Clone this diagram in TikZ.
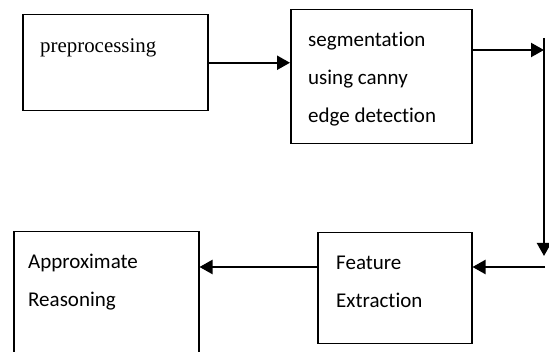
\documentclass[tikz,border=0pt]{standalone}
\usepackage{fontspec}
\setmainfont{Carlito}[Ligatures=NoCommon]
\newfontfamily\serifface{Liberation Serif}
\usetikzlibrary{arrows.meta}
\begin{document}
\begin{tikzpicture}[x=1pt,y=-1pt,
  box/.style={draw=black, line width=1.5pt, inner sep=0pt, anchor=north west},
  boxtext/.style={anchor=base west, inner sep=0pt, align=left,
    font=\fontsize{21}{38}\selectfont},
  flow/.style={line width=2.2pt, -{Triangle[length=13pt,width=14pt]}}]
\useasboundingbox (0,0) rectangle (549,352);
\clip (0,0) rectangle (549,352);

% process boxes
\node[box, minimum width=185pt, minimum height=96pt]  (b1) at (22,14)  {};
\node[box, minimum width=181pt, minimum height=134pt] (b2) at (290,9)  {};
\node[box, minimum width=154pt, minimum height=111pt] (b3) at (317,232) {};
\node[box, minimum width=185pt, minimum height=140pt] (b4) at (13,231) {};

% box captions (multi-line nodes are placed by the baseline of their last line)
\node[boxtext, font=\fontsize{20.9}{38}\selectfont\serifface] (t1) at (40,53) {preprocessing};
\node[boxtext] (t2) at (308,123) {segmentation\\using canny\\edge detection};
\node[boxtext] (t3) at (336,308) {Feature\\Extraction};
\node[boxtext] (t4) at (28,307) {Approximate\\Reasoning};

% routing points on the right-hand return path
\coordinate (turn) at (544,50);
\coordinate (top)  at (544,38);
\coordinate (down) at (544,256);
\coordinate (back) at (545,267);

% connectors
\draw[flow] (b1.east) -- (b1.east -| b2.west);
\draw[flow] (b2.east |- turn) -- (turn);
\draw[flow] (top) -- (down);
\draw[flow] (back) -- (back -| b3.east);
\draw[flow] (b3.west |- back) -- (back -| b4.east);
\end{tikzpicture}
\end{document}
